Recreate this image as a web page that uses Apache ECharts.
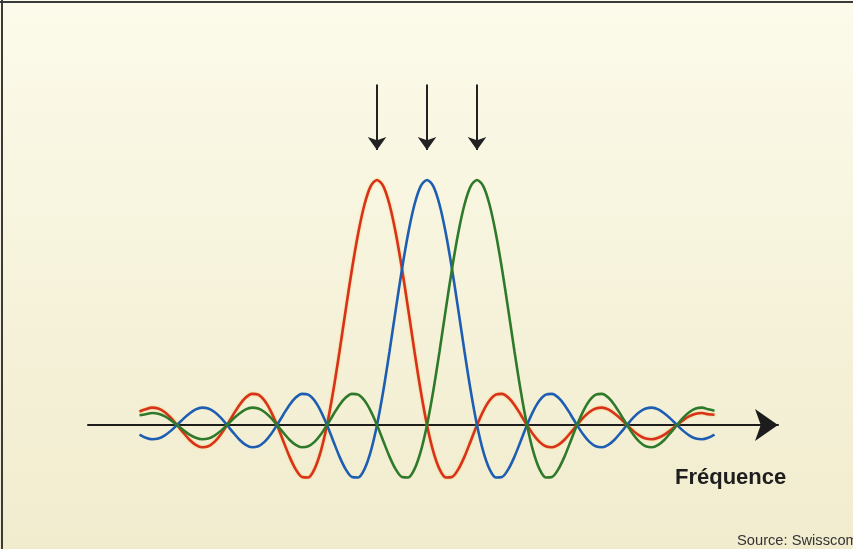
<!DOCTYPE html>
<html>
<head>
<meta charset="utf-8">
<script src="https://cdn.jsdelivr.net/npm/echarts@6/dist/echarts.min.js"></script>
<style>
html,body{margin:0;padding:0;background:#f6f3dd;}
#c{width:853px;height:549px;}
</style>
</head>
<body>
<div id="c"></div>
<script>
// frequency positions (units of sub-carrier spacing, blue carrier at 0)
var freq = [-5.75,-5.625,-5.5,-5.375,-5.25,-5.125,-5,-4.875,-4.75,-4.625,-4.5,-4.375,-4.25,-4.125,-4,-3.875,-3.75,-3.625,-3.5,-3.375,-3.25,-3.125,-3,-2.875,-2.75,-2.625,-2.5,-2.375,-2.25,-2.125,-2,-1.875,-1.75,-1.625,-1.5,-1.375,-1.25,-1.125,-1,-0.875,-0.75,-0.625,-0.5,-0.375,-0.25,-0.125,
  0,0.125,0.25,0.375,0.5,0.625,0.75,0.875,1,1.125,1.25,1.375,1.5,1.625,1.75,1.875,2,2.125,2.25,2.375,2.5,2.625,2.75,2.875,3,3.125,3.25,3.375,3.5,3.625,3.75,3.875,4,4.125,4.25,4.375,4.5,4.625,4.75,4.875,5,5.125,5.25,5.375,5.5,5.625,5.75];
// amplitude (peak = 1)
var redCarrier = [0.055,0.064,0.071,0.067,0.053,0.03,0,-0.031,-0.06,-0.081,-0.091,-0.087,-0.069,-0.039,0,0.042,0.082,0.112,0.127,0.124,0.1,0.057,0,-0.065,-0.129,-0.181,-0.212,-0.214,-0.18,-0.108,0,0.139,0.3,0.471,0.637,0.784,0.9,0.975,
  1,0.975,0.9,0.784,0.637,0.471,0.3,0.139,0,-0.108,-0.18,-0.214,-0.212,-0.181,-0.129,-0.065,0,0.057,0.1,0.124,0.127,0.112,0.082,0.042,0,-0.039,-0.069,-0.087,-0.091,-0.081,-0.06,-0.031,0,0.03,0.053,0.067,0.071,0.064,0.047,0.025,0,-0.024,-0.043,-0.055,-0.058,-0.052,-0.039,-0.021,0,0.02,0.036,0.046,0.049,0.044,0.042];
var blueCarrier = [-0.039,-0.052,-0.058,-0.055,-0.043,-0.024,0,0.025,0.047,0.064,0.071,0.067,0.053,0.03,0,-0.031,-0.06,-0.081,-0.091,-0.087,-0.069,-0.039,0,0.042,0.082,0.112,0.127,0.124,0.1,0.057,0,-0.065,-0.129,-0.181,-0.212,-0.214,-0.18,-0.108,0,0.139,0.3,0.471,0.637,0.784,0.9,0.975,
  1,0.975,0.9,0.784,0.637,0.471,0.3,0.139,0,-0.108,-0.18,-0.214,-0.212,-0.181,-0.129,-0.065,0,0.057,0.1,0.124,0.127,0.112,0.082,0.042,0,-0.039,-0.069,-0.087,-0.091,-0.081,-0.06,-0.031,0,0.03,0.053,0.067,0.071,0.064,0.047,0.025,0,-0.024,-0.043,-0.055,-0.058,-0.052,-0.039];
var greenCarrier = [0.04,0.044,0.049,0.046,0.036,0.02,0,-0.021,-0.039,-0.052,-0.058,-0.055,-0.043,-0.024,0,0.025,0.047,0.064,0.071,0.067,0.053,0.03,0,-0.031,-0.06,-0.081,-0.091,-0.087,-0.069,-0.039,0,0.042,0.082,0.112,0.127,0.124,0.1,0.057,0,-0.065,-0.129,-0.181,-0.212,-0.214,-0.18,-0.108,0,0.139,0.3,0.471,0.637,0.784,0.9,0.975,
  1,0.975,0.9,0.784,0.637,0.471,0.3,0.139,0,-0.108,-0.18,-0.214,-0.212,-0.181,-0.129,-0.065,0,0.057,0.1,0.124,0.127,0.112,0.082,0.042,0,-0.039,-0.069,-0.087,-0.091,-0.081,-0.06,-0.031,0,0.03,0.053,0.067,0.071,0.064,0.058];
// carrier centre markers (arrows above the peaks)
var arrowFreq = [-1, 0, 1];
var arrowTop = 1.39;
var arrowTip = 1.122;
var axisTitle = 'Fréquence';
var sourceText = 'Source: Swisscom';

function pairs(ys){ return freq.map(function(x,i){ return [x, ys[i]]; }); }

var chart = echarts.init(document.getElementById('c'));
var lineBase = {type:'line', showSymbol:false, smooth:0.3, silent:true, animation:false};
chart.setOption({
  backgroundColor: {type:'linear', x:0, y:0, x2:0, y2:1, colorStops:[{offset:0,color:'#fcfaea'},{offset:1,color:'#f1ecce'}]},
  animation:false,
  grid:{left:88, right:75, top:57.5, bottom:1.5},
  xAxis:{type:'value', min:-6.78, max:7.02,
    axisLine:{show:true, onZero:true, symbol:['none','arrow'], symbolSize:[24,23], lineStyle:{color:'#1c1c1c', width:2}},
    axisTick:{show:false}, axisLabel:{show:false}, splitLine:{show:false}},
  yAxis:{type:'value', min:-0.5, max:1.5, show:false, splitLine:{show:false}},
  series:[
    Object.assign({}, lineBase, {name:'red', data:pairs(redCarrier), lineStyle:{color:'#d8321e', width:2.6, shadowColor:'rgba(240,190,40,0.7)', shadowBlur:2}, z:3}),
    Object.assign({}, lineBase, {name:'blue', data:pairs(blueCarrier), lineStyle:{color:'#1d5eb2', width:2.6}, z:4,
      markLine:{silent:true, symbol:['none','arrow'], symbolSize:[14,13], label:{show:false},
        lineStyle:{color:'#222', width:2, type:'solid'},
        data: arrowFreq.map(function(f){ return [{coord:[f, arrowTop]},{coord:[f, arrowTip]}]; })}}),
    Object.assign({}, lineBase, {name:'green', data:pairs(greenCarrier), lineStyle:{color:'#2f7a2a', width:2.6}, z:5})
  ],
  graphic:[
    {type:'rect', left:0, top:1, shape:{width:853, height:2}, style:{fill:'#3a3a3a'}, silent:true},
    {type:'rect', left:1, top:0, shape:{width:2, height:549}, style:{fill:'#3a3a3a'}, silent:true},
    {type:'text', left:675, top:467, style:{text:axisTitle, font:'bold 22px "Liberation Sans", Arial, sans-serif', fill:'#1e1e1e'}},
    {type:'text', left:737, top:533, style:{text:sourceText, font:'14.7px "Liberation Sans", Arial, sans-serif', fill:'#333'}}
  ]
});
</script>
</body>
</html>
